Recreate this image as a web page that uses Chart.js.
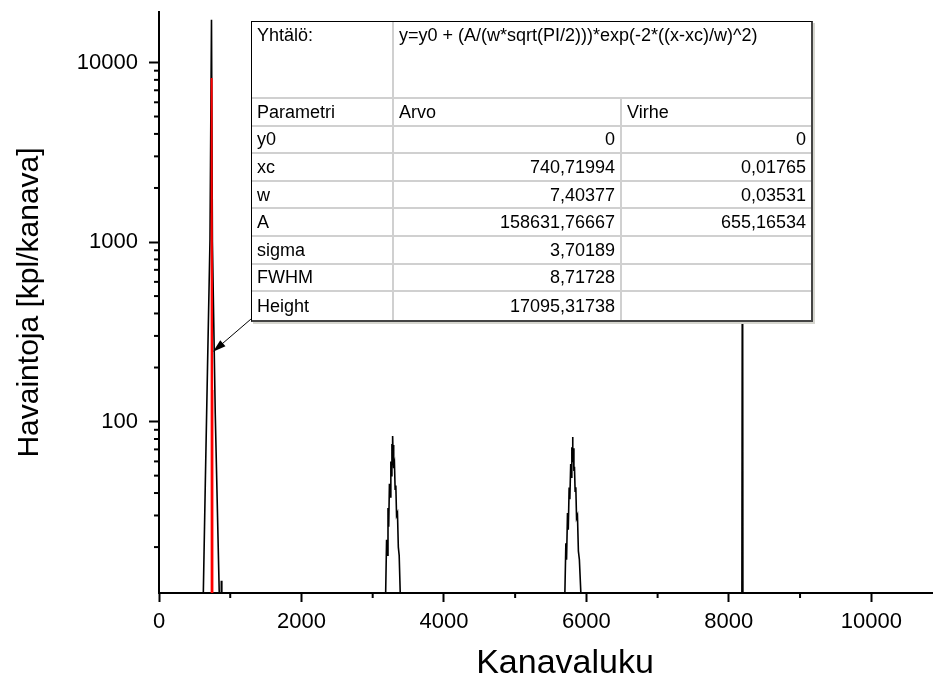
<!DOCTYPE html>
<html>
<head>
<meta charset="utf-8">
<script src="https://cdn.jsdelivr.net/npm/chart.js@4"></script>
<style>
  body { margin: 0; background: #fff; overflow: hidden; }
  #wrap { position: relative; width: 971px; height: 677px; }
  #fitTable {
    position: absolute; left: 251px; top: 21px; width: 559px;
    border-collapse: separate; border-spacing: 0; table-layout: fixed;
    background: #fff; color: #000;
    font: 18px "Liberation Sans", Arial, sans-serif;
    border-left: 1px solid #000; border-top: 1px solid #000;
    border-right: 2px solid #444; border-bottom: 2px solid #444;
    box-shadow: 2px 2px 0 #d6d6cf;
  }
  #fitTable td {
    border-right: 2px solid #d0d0d0; border-bottom: 2px solid #d0d0d0;
    padding: 0 5px; line-height: 1; white-space: nowrap; overflow: hidden;
    box-sizing: border-box;
  }
  #fitTable td:last-child { border-right: none; }
  #fitTable tr:last-child td { border-bottom: none; }
  #fitTable tr.head td { vertical-align: top; padding-top: 4px; }
  #fitTable td.num { text-align: right; }
</style>
</head>
<body>
<div id="wrap">
  <canvas id="myChart" width="971" height="677"></canvas>
  <table id="fitTable"></table>
</div>
<script>
// measured spectrum (channel, counts) - values under the axis minimum just drop to the axis
var spectrumChannels = [0, 600, 622, 650, 680, 716, 737, 750, 790, 846, 850, 868, 875, 882,
  3170, 3182, 3195, 3205, 3215, 3225, 3235, 3245, 3255, 3262, 3270, 3275, 3280, 3286, 3292, 3298,
  3306, 3315, 3325, 3335, 3348, 3360, 3372, 3387, 3400,
  5685, 5698, 5712, 5722, 5735, 5746, 5758, 5768, 5780, 5788, 5796, 5801, 5806, 5812, 5818, 5825,
  5833, 5842, 5852, 5862, 5875, 5888, 5902, 5923, 5935,
  8180, 8192, 8200, 11400]
var spectrumCounts = [1, 1, 11, 45, 190, 1040, 17300, 1000, 110, 11, 1, 1, 13, 1,
  1, 11, 22, 18, 33, 26, 45, 38, 60, 50, 75, 62, 83, 66, 74, 55,
  58, 42, 44, 30, 31, 20, 18, 11, 1,
  1, 11, 21, 17, 31, 25, 43, 37, 58, 49, 72, 60, 82, 64, 71, 53,
  56, 41, 43, 29, 30, 19, 17, 11, 1,
  1, 5000, 1, 1]

// gauss fit curve as drawn (red)
var fitChannels = [731, 736, 739, 742, 746, 750]
var fitCounts = [1, 2500, 8200, 4000, 150, 1]

var xMajorTicks = [0, 2000, 4000, 6000, 8000, 10000]
var xMinorTicks = [1000, 3000, 5000, 7000, 9000, 11000]
var yMajorTicks = [100, 1000, 10000]
var yMinorTicks = [20, 30, 40, 50, 60, 70, 80, 90, 200, 300, 400, 500, 600, 700, 800, 900,
  2000, 3000, 4000, 5000, 6000, 7000, 8000, 9000]

// fit result table
var equationLabel = 'Yhtälö:'
var equationText = 'y=y0 + (A/(w*sqrt(PI/2)))*exp(-2*((x-xc)/w)^2)'
var tableHeaders = ['Parametri', 'Arvo', 'Virhe']
var paramNames = ['y0', 'xc', 'w', 'A', 'sigma', 'FWHM', 'Height']
var paramValues = ['0', '740,71994', '7,40377', '158631,76667', '3,70189', '8,71728', '17095,31738']
var paramErrors = ['0', '0,01765', '0,03531', '655,16534', '', '', '']

// arrow from table corner to the fit curve (data coords)
var arrowFrom = {x: 1290, y: 372}
var arrowTo = {x: 758, y: 245}

var table = document.getElementById('fitTable')
var html = '<colgroup><col style="width:142px"><col style="width:228px"><col style="width:189px"></colgroup>'
html += '<tr class="head" style="height:77px"><td>' + equationLabel + '</td><td colspan="2">' + equationText + '</td></tr>'
html += '<tr style="height:27.6px">' + tableHeaders.map(h => '<td>' + h + '</td>').join('') + '</tr>'
paramNames.forEach((p, i) => {
  html += '<tr style="height:27.6px"><td>' + p + '</td><td class="num">' + paramValues[i] + '</td><td class="num">' + paramErrors[i] + '</td></tr>'
})
table.innerHTML = html

var spectrum = spectrumChannels.map((c, i) => ({x: c, y: spectrumCounts[i]}))
var fitCurve = fitChannels.map((c, i) => ({x: c, y: fitCounts[i]}))

const extraDraw = {
  id: 'extraDraw',
  afterDraw(chart) {
    const {ctx} = chart
    const x = chart.scales.x, y = chart.scales.y
    ctx.save()
    ctx.strokeStyle = '#000'
    ctx.lineWidth = 2
    xMinorTicks.forEach(v => {
      const px = x.getPixelForValue(v)
      ctx.beginPath(); ctx.moveTo(px, x.top); ctx.lineTo(px, x.top + 5); ctx.stroke()
    })
    yMinorTicks.forEach(v => {
      const py = y.getPixelForValue(v)
      ctx.beginPath(); ctx.moveTo(y.right - 5, py); ctx.lineTo(y.right, py); ctx.stroke()
    })
    // arrow
    const x0 = x.getPixelForValue(arrowFrom.x), y0 = y.getPixelForValue(arrowFrom.y)
    const x1 = x.getPixelForValue(arrowTo.x), y1 = y.getPixelForValue(arrowTo.y)
    const ang = Math.atan2(y1 - y0, x1 - x0)
    ctx.lineWidth = 1
    ctx.beginPath(); ctx.moveTo(x0, y0); ctx.lineTo(x1 - 10 * Math.cos(ang), y1 - 10 * Math.sin(ang)); ctx.stroke()
    ctx.fillStyle = '#000'
    ctx.beginPath()
    ctx.moveTo(x1, y1)
    ctx.lineTo(x1 - 13 * Math.cos(ang) + 4 * Math.sin(ang), y1 - 13 * Math.sin(ang) - 4 * Math.cos(ang))
    ctx.lineTo(x1 - 13 * Math.cos(ang) - 4 * Math.sin(ang), y1 - 13 * Math.sin(ang) + 4 * Math.cos(ang))
    ctx.closePath(); ctx.fill()
    ctx.restore()
  }
}

Chart.defaults.font.family = '"Liberation Sans", Arial, sans-serif'
Chart.defaults.color = '#000'

const ctx = document.getElementById('myChart')
var myChart = new Chart(ctx, {
  type: 'scatter',
  data: {
    datasets: [{
      label: 'Spektri',
      data: spectrum,
      showLine: true,
      borderColor: '#000',
      borderWidth: 1.6,
      pointRadius: 0,
      order: 1
    }, {
      label: 'Sovitus',
      data: fitCurve,
      showLine: true,
      borderColor: '#ff0000',
      borderWidth: 2,
      pointRadius: 0,
      order: 0
    }]
  },
  options: {
    responsive: false,
    animation: false,
    layout: { padding: { top: 12, right: 0, left: 0, bottom: 0 } },
    plugins: { legend: { display: false }, tooltip: { enabled: false } },
    scales: {
      x: {
        type: 'linear',
        min: 0,
        max: 11400,
        afterBuildTicks: s => { s.ticks = xMajorTicks.map(v => ({value: v})) },
        afterFit: s => { s.height = 84; s.paddingLeft = 0; s.paddingRight = 0 },
        ticks: { font: { size: 22, lineHeight: 1 }, padding: 9, maxRotation: 0, callback: v => String(v) },
        grid: { drawOnChartArea: false, tickLength: 9, tickWidth: 2, tickColor: '#000' },
        border: { color: '#000', width: 2 },
        title: { display: true, text: 'Kanavaluku', font: { size: 34, lineHeight: 1 }, padding: { top: 0, bottom: -4 } }
      },
      y: {
        type: 'logarithmic',
        min: 11.1,
        max: 19100,
        afterBuildTicks: s => { s.ticks = yMajorTicks.map(v => ({value: v})) },
        afterFit: s => { s.width = 159; s.paddingTop = 0; s.paddingBottom = 0 },
        ticks: { font: { size: 22, lineHeight: 1 }, padding: 11, callback: v => String(v) },
        grid: { drawOnChartArea: false, tickLength: 10, tickWidth: 2, tickColor: '#000' },
        border: { color: '#000', width: 2 },
        title: { display: true, text: 'Havaintoja [kpl/kanava]', font: { size: 30, lineHeight: 1 }, padding: { top: 15, bottom: 0 } }
      }
    }
  },
  plugins: [extraDraw]
})
</script>
</body>
</html>
